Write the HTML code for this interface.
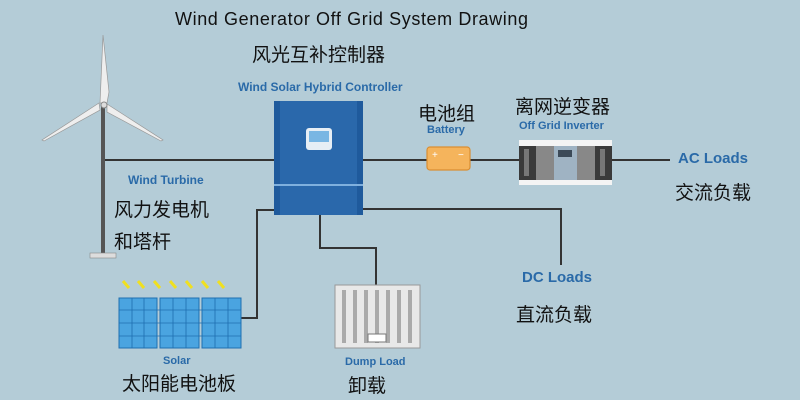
<!DOCTYPE html>
<html><head><meta charset="utf-8"><style>
body{margin:0;width:800px;height:400px;overflow:hidden;background:#b4ccd7;font-family:"Liberation Sans","Noto Sans CJK SC",sans-serif}
svg{position:absolute;left:0;top:0}
.t{position:absolute;white-space:nowrap;line-height:1}
.b{color:#2a6aa8;font-weight:bold}
.c{color:#111;font-size:19px}
</style></head><body>
<svg width="800" height="400" viewBox="0 0 800 400">
<g stroke="#333" stroke-width="2" fill="none">
<line x1="104" y1="160" x2="275" y2="160"/>
<line x1="362" y1="160" x2="670" y2="160"/>
<polyline points="275,210 257,210 257,318 241,318"/>
<polyline points="320,215 320,248 376,248 376,286"/>
<polyline points="362,209 561,209 561,265"/>
</g>
<!-- turbine -->
<rect x="101" y="100" width="4" height="155" fill="#555"/>
<rect x="90" y="253" width="26" height="5" fill="#ddd" stroke="#888" stroke-width="0.6"/>
<polygon points="100,103 103,35 109,92 107,103" fill="#eee" stroke="#999" stroke-width="0.7"/>
<polygon points="99,103 42,140 44,141 100,110" fill="#eee" stroke="#999" stroke-width="0.7"/>
<polygon points="107,104 163,140 161,141 107,112" fill="#eee" stroke="#999" stroke-width="0.7"/>
<circle cx="104" cy="105" r="3" fill="#ddd" stroke="#888"/>
<!-- controller -->
<rect x="274" y="101" width="89" height="114" fill="#1f5a9c"/>
<rect x="280" y="101" width="77" height="114" fill="#2a68ab"/>
<rect x="274" y="184" width="89" height="2" fill="#7fb0de"/>
<rect x="306" y="128" width="26" height="22" rx="3" fill="#e6eef5"/>
<rect x="309" y="131" width="20" height="11" fill="#79b6e3"/>
<!-- battery -->
<rect x="427" y="147" width="43" height="23" rx="3" fill="#f5b45c" stroke="#d98e32" stroke-width="1.2"/>
<text x="432" y="158" fill="#fff" font-size="10">+</text><text x="458" y="158" fill="#fff" font-size="10">−</text>
<!-- inverter -->
<rect x="519" y="140" width="93" height="45" fill="#f4f4f4"/>
<rect x="519" y="146" width="93" height="34" fill="#3a3a3a"/>
<rect x="536" y="146" width="18" height="34" fill="#888"/>
<rect x="577" y="146" width="18" height="34" fill="#888"/>
<rect x="554" y="146" width="23" height="34" fill="#9fb3c3"/>
<rect x="558" y="150" width="14" height="7" fill="#3c4a58"/>
<rect x="524" y="149" width="5" height="27" fill="#777"/><rect x="600" y="149" width="5" height="27" fill="#777"/>
<!-- solar panels -->
<g fill="#4aa4e0" stroke="#1f6fb0" stroke-width="1">
<rect x="119" y="298" width="38" height="50"/><rect x="160" y="298" width="39" height="50"/><rect x="202" y="298" width="39" height="50"/>
</g>
<g stroke="#1f6fb0" stroke-width="0.8">
<path d="M132 298V348M144 298V348M173 298V348M186 298V348M215 298V348M228 298V348M119 310H241M119 323H241M119 336H241"/>
</g>
<g stroke="#f0e020" stroke-width="3">
<path d="M123 281l6 7M138 281l6 7M154 281l6 7M170 281l6 7M186 281l6 7M202 281l6 7M218 281l6 7"/>
</g>
<!-- dump load -->
<rect x="335" y="285" width="85" height="63" fill="#e8e8e8" stroke="#999"/>
<g stroke="#aaa" stroke-width="4"><path d="M344 290V343M355 290V343M366 290V343M377 290V343M388 290V343M399 290V343M410 290V343"/></g>
<rect x="368" y="334" width="18" height="8" fill="#fff" stroke="#777"/>
</svg>
<div class="t" style="left:175px;top:10px;font-size:18px;letter-spacing:0.6px;color:#111">Wind Generator Off Grid System Drawing</div>
<div class="t c" style="left:252px;top:46px">风光互补控制器</div>
<div class="t b" style="left:238px;top:81px;font-size:12px">Wind Solar Hybrid Controller</div>
<div class="t b" style="left:128px;top:174px;font-size:12px">Wind Turbine</div>
<div class="t c" style="left:114px;top:201px">风力发电机</div>
<div class="t c" style="left:114px;top:233px">和塔杆</div>
<div class="t c" style="left:418px;top:105px">电池组</div>
<div class="t b" style="left:427px;top:125px;font-size:11px">Battery</div>
<div class="t c" style="left:515px;top:98px">离网逆变器</div>
<div class="t b" style="left:519px;top:121px;font-size:11px">Off Grid Inverter</div>
<div class="t b" style="left:678px;top:151px;font-size:15px">AC Loads</div>
<div class="t c" style="left:675px;top:184px">交流负载</div>
<div class="t b" style="left:522px;top:270px;font-size:15px">DC Loads</div>
<div class="t c" style="left:516px;top:306px">直流负载</div>
<div class="t b" style="left:163px;top:356px;font-size:11px">Solar</div>
<div class="t c" style="left:122px;top:375px">太阳能电池板</div>
<div class="t b" style="left:345px;top:357px;font-size:11px">Dump Load</div>
<div class="t c" style="left:348px;top:377px">卸载</div>
</body></html>
